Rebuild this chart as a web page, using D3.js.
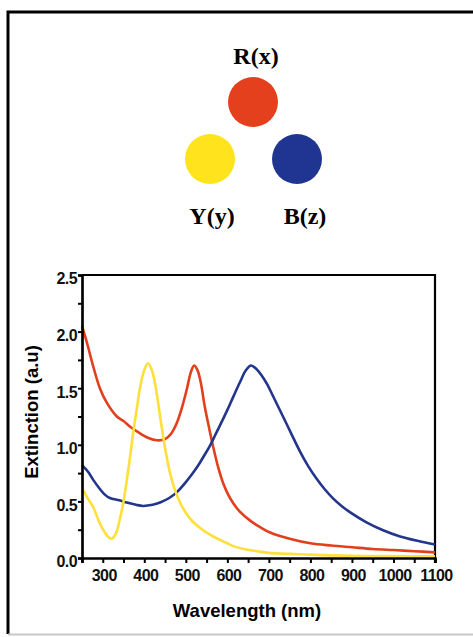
<!DOCTYPE html>
<html>
<head>
<meta charset="utf-8">
<script src="https://cdn.jsdelivr.net/npm/d3@7"></script>
<style>
  body { margin: 0; background: #fff; }
  svg { display: block; }
  .tick text { font-family: "Liberation Sans", Arial, sans-serif; font-weight: bold; }
</style>
</head>
<body>
<svg id="chart" width="473" height="637"></svg>
<script>
// swatches shown above the plot
const swatchNames = ["R(x)", "Y(y)", "B(z)"];
const swatchColors = ["#e5401d", "#ffe31c", "#1f3591"];

// spectra
const redWl  = [250, 262, 275, 293, 310, 334, 350, 366, 390, 410, 430, 450, 465, 478, 490, 503, 512, 520, 528, 536, 545, 556, 566, 578, 590, 602, 615, 630, 655, 680, 703, 750, 800, 850, 900, 950, 1000, 1050, 1100];
const redExt = [2.05, 1.90, 1.72, 1.50, 1.37, 1.25, 1.21, 1.16, 1.10, 1.06, 1.04, 1.05, 1.10, 1.19, 1.32, 1.50, 1.64, 1.70, 1.66, 1.55, 1.35, 1.15, 0.98, 0.80, 0.66, 0.56, 0.48, 0.41, 0.33, 0.27, 0.225, 0.17, 0.13, 0.11, 0.095, 0.08, 0.07, 0.06, 0.05];

const yelWl  = [250, 265, 277, 290, 301, 312, 322, 332, 341, 350, 358, 366, 373, 382, 390, 400, 409, 418, 426, 435, 443, 452, 462, 474, 486, 500, 517, 540, 566, 600, 614, 640, 671, 700, 800, 900, 1000, 1100];
const yelExt = [0.62, 0.52, 0.45, 0.33, 0.25, 0.19, 0.17, 0.22, 0.34, 0.50, 0.69, 0.90, 1.10, 1.32, 1.51, 1.66, 1.72, 1.66, 1.54, 1.33, 1.13, 0.93, 0.75, 0.60, 0.49, 0.40, 0.32, 0.25, 0.19, 0.13, 0.105, 0.08, 0.06, 0.045, 0.03, 0.02, 0.017, 0.015];

const bluWl  = [250, 265, 277, 293, 305, 317, 340, 358, 380, 397, 420, 438, 460, 478, 500, 517, 532, 545, 558, 570, 582, 599, 615, 630, 645, 657, 670, 683, 695, 714, 734, 755, 775, 795, 815, 835, 855, 875, 895, 935, 975, 1016, 1060, 1100];
const bluExt = [0.82, 0.76, 0.69, 0.61, 0.56, 0.53, 0.51, 0.49, 0.47, 0.46, 0.47, 0.49, 0.53, 0.58, 0.67, 0.75, 0.83, 0.91, 0.99, 1.08, 1.17, 1.30, 1.43, 1.55, 1.66, 1.70, 1.67, 1.61, 1.54, 1.40, 1.25, 1.09, 0.94, 0.81, 0.70, 0.605, 0.525, 0.46, 0.405, 0.315, 0.245, 0.19, 0.15, 0.12];

const xTicks = [300, 400, 500, 600, 700, 800, 900, 1000, 1100];
const xMinor = [250, 350, 450, 550, 650, 750, 850, 950, 1050];
const yTicks = [0, 0.5, 1.0, 1.5, 2.0, 2.5];
const yMinor = [0.25, 0.75, 1.25, 1.75, 2.25];

const svg = d3.select("#chart");

// outer frame
svg.append("rect").attr("width", 473).attr("height", 637).attr("fill", "#fff");
svg.append("path")
    .attr("d", "M8,634 V12 H473")
    .attr("fill", "none").attr("stroke", "#000").attr("stroke-width", 3);
svg.append("line")
    .attr("x1", 8).attr("x2", 473).attr("y1", 634.5).attr("y2", 634.5)
    .attr("stroke", "#c8c8c8").attr("stroke-width", 2);

// coloured swatches
const swatchPos = [[253, 102], [210, 159], [297, 159]];
const labelPos = [[256, 64], [212, 224], [305, 224]];
swatchPos.forEach((p, i) => {
    svg.append("circle").attr("cx", p[0]).attr("cy", p[1]).attr("r", 25)
        .attr("fill", swatchColors[i]);
    svg.append("text").attr("x", labelPos[i][0]).attr("y", labelPos[i][1])
        .attr("text-anchor", "middle")
        .attr("font-family", "'Liberation Serif', 'Times New Roman', serif")
        .attr("font-weight", "bold").attr("font-size", 24)
        .text(swatchNames[i]);
});

// plot
const x = d3.scaleLinear().domain([250, 1100]).range([82, 435]);
const y = d3.scaleLinear().domain([0, 2.5]).range([558, 275]);

// frame top/right
svg.append("path")
    .attr("d", `M${x(250)},${y(2.5)} H${x(1100)} V${y(0) + 5}`)
    .attr("fill", "none").attr("stroke", "#000").attr("stroke-width", 2.2);

const line = d3.line().x(d => x(d[0])).y(d => y(d[1])).curve(d3.curveCatmullRom.alpha(0.5));
const series = [
    [redWl, redExt, "#e2401c"],
    [bluWl, bluExt, "#23358c"],
    [yelWl, yelExt, "#ffdf3a"]
];
series.forEach(s => {
    svg.append("path")
        .datum(d3.zip(s[0], s[1]))
        .attr("d", line)
        .attr("fill", "none")
        .attr("stroke", s[2])
        .attr("stroke-width", 2.6);
});

// axes
const xAxis = svg.append("g").attr("transform", `translate(0,${y(0)})`)
    .call(d3.axisBottom(x).tickValues(xTicks).tickSize(5).tickPadding(7).tickFormat(d3.format("d")));
svg.append("g").attr("transform", `translate(0,${y(0)})`)
    .call(d3.axisBottom(x).tickValues(xMinor).tickSize(5).tickFormat(""));
const yAxis = svg.append("g").attr("transform", `translate(${x(250)},0)`)
    .call(d3.axisLeft(y).tickValues(yTicks).tickSize(4).tickPadding(1).tickFormat(d3.format(".1f")));
svg.append("g").attr("transform", `translate(${x(250)},0)`)
    .call(d3.axisLeft(y).tickValues(yMinor).tickSize(4).tickFormat(""));

svg.selectAll(".domain").attr("stroke", "#000").attr("stroke-width", 2.2);
svg.selectAll(".tick line").attr("stroke", "#000").attr("stroke-width", 2);
xAxis.selectAll("text").attr("font-size", 16).attr("letter-spacing", -0.6)
    .attr("fill", "#111").attr("dx", 1);
yAxis.selectAll("text").attr("font-size", 16).attr("letter-spacing", -0.6)
    .attr("fill", "#111").attr("dy", "0.55em");

// axis titles
svg.append("text")
    .attr("x", 247).attr("y", 617)
    .attr("text-anchor", "middle")
    .attr("font-family", "'Liberation Sans', Arial, sans-serif")
    .attr("font-weight", "bold").attr("font-size", 18.5)
    .text("Wavelength (nm)");
svg.append("text")
    .attr("transform", "translate(38,412) rotate(-90)")
    .attr("text-anchor", "middle")
    .attr("font-family", "'Liberation Sans', Arial, sans-serif")
    .attr("font-weight", "bold").attr("font-size", 18.5)
    .text("Extinction (a.u)");
</script>
</body>
</html>
